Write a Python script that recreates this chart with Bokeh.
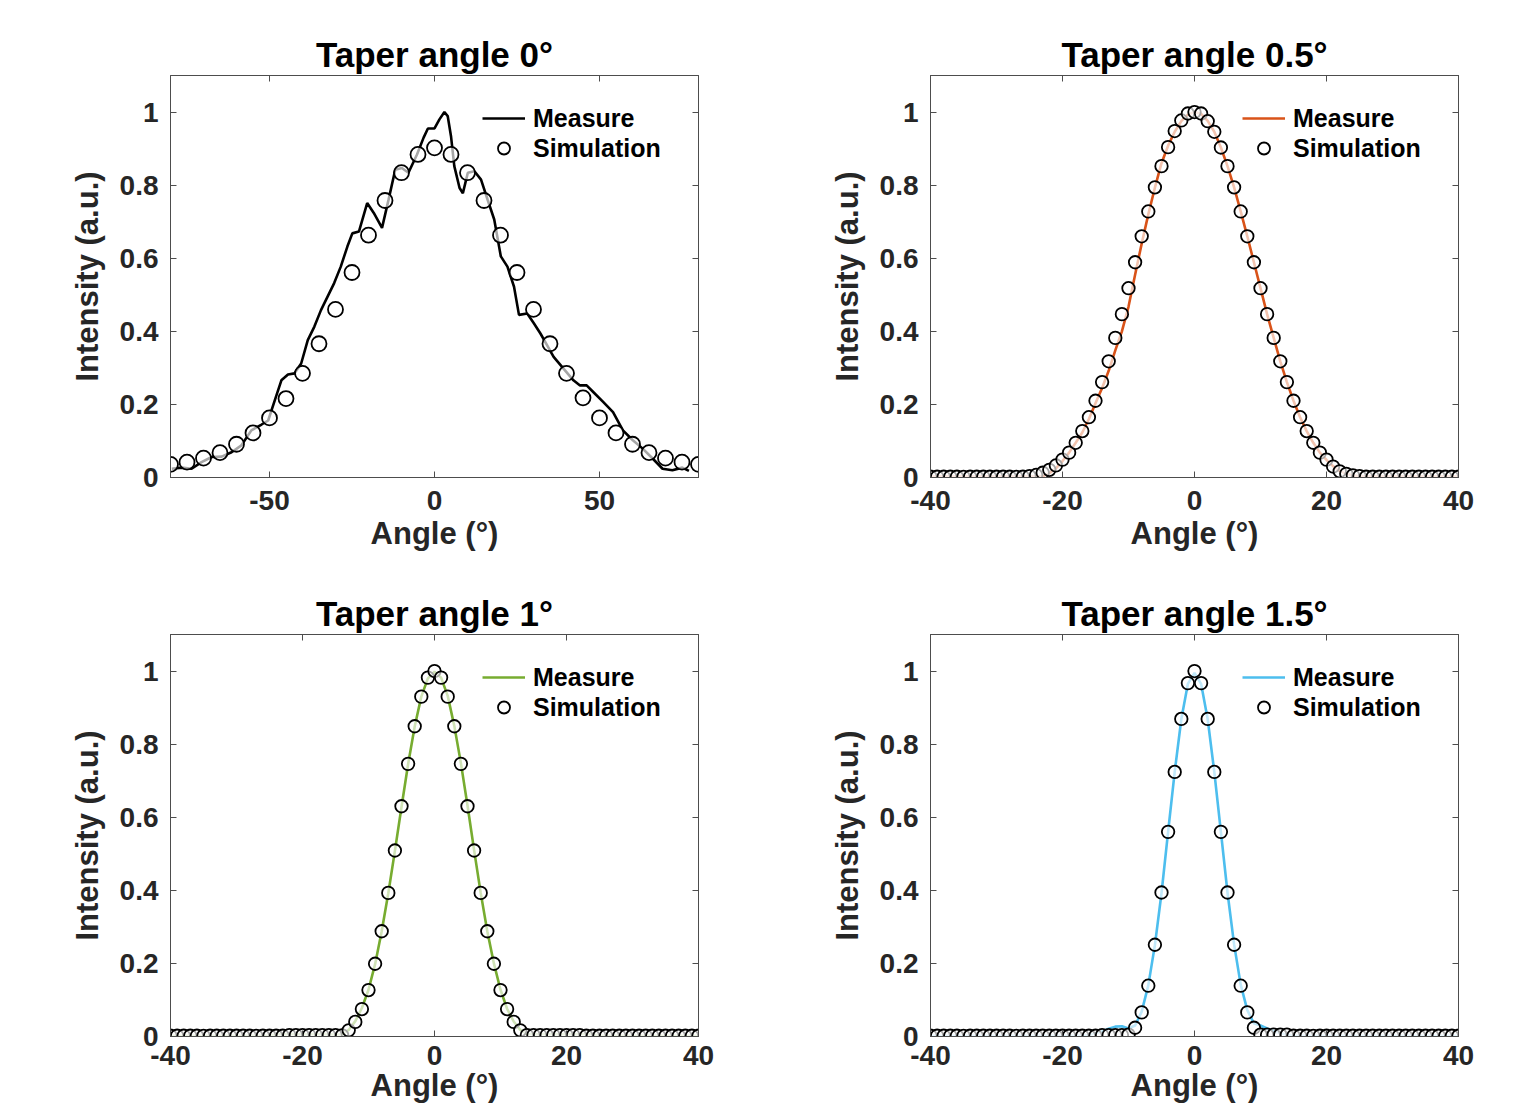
from bokeh.plotting import figure
from bokeh.layouts import row, column
from bokeh.models import (LinearAxis, FixedTicker, NumeralTickFormatter, Legend,
                          LegendItem, Range1d)
from bokeh.embed import file_html
from bokeh.resources import INLINE

# ---------------- data ----------------
titles = ["Taper angle 0°", "Taper angle 0.5°", "Taper angle 1°", "Taper angle 1.5°"]
colors = ["#000000", "#D95319", "#77AC30", "#4DBEEE"]

# Taper 0 deg
sim0_x = list(range(-80, 85, 5))
sim0_y = [0.036, 0.042, 0.053, 0.068, 0.091, 0.122, 0.163, 0.216, 0.285, 0.366, 0.460,
          0.561, 0.663, 0.758, 0.834, 0.884, 0.902, 0.884, 0.834, 0.758, 0.663, 0.561,
          0.460, 0.366, 0.285, 0.218, 0.163, 0.122, 0.091, 0.068, 0.053, 0.042, 0.036]
meas0_x = [-79.6, -76.6, -73.6, -70.6, -67.5, -64.5, -61.5, -58.5, -55.5, -52.4, -50.4,
           -48.4, -46.4, -44.4, -42.4, -40.4, -38.4, -36.4, -34.4, -32.4, -30.4, -28.4,
           -26.4, -24.9, -22.9, -20.4, -18.4, -15.9, -13.9, -11.9, -9.9, -7.9, -5.3,
           -3.3, -2.0, 0.0, 1.5, 3.0, 4.0, 5.0, 6.0, 7.6, 8.6, 10.1, 12.1, 14.1, 16.1,
           18.1, 20.1, 22.1, 24.1, 25.6, 28.1, 30.1, 32.1, 34.1, 36.1, 39.1, 42.1, 44.1,
           46.1, 48.1, 51.1, 54.1, 57.1, 60.1, 63.1, 66.1, 69.1, 72.1, 75.1, 77.1]
meas0_y = [0.024, 0.027, 0.024, 0.042, 0.056, 0.057, 0.069, 0.088, 0.129, 0.145, 0.156,
           0.211, 0.266, 0.282, 0.285, 0.312, 0.376, 0.413, 0.458, 0.495, 0.532, 0.577,
           0.632, 0.668, 0.673, 0.751, 0.724, 0.683, 0.761, 0.842, 0.847, 0.834, 0.884,
           0.930, 0.955, 0.955, 0.980, 1.000, 0.989, 0.934, 0.852, 0.792, 0.778, 0.834,
           0.838, 0.815, 0.760, 0.706, 0.605, 0.577, 0.522, 0.445, 0.449, 0.422, 0.394,
           0.362, 0.330, 0.298, 0.266, 0.252, 0.252, 0.234, 0.207, 0.179, 0.129, 0.102,
           0.079, 0.052, 0.024, 0.020, 0.027, 0.018]

# Taper 0.5, 1, 1.5 deg: sampled every degree from -40 to 40
ang = list(range(-40, 41))

sim05_y = ([0.002] * 15 +
           [0.004, 0.007, 0.013, 0.021, 0.033, 0.049, 0.068, 0.095, 0.127, 0.165, 0.210,
            0.261, 0.318, 0.382, 0.447, 0.518, 0.589, 0.660, 0.728, 0.794, 0.852, 0.904,
            0.948, 0.977, 0.996, 1.000, 0.996, 0.975, 0.946, 0.903, 0.852, 0.794, 0.728,
            0.660, 0.589, 0.518, 0.447, 0.382, 0.318, 0.261, 0.210, 0.165, 0.127, 0.095,
            0.068, 0.049, 0.030, 0.017, 0.010, 0.006, 0.004] +
           [0.002] * 15)
meas05_y = ([0.003] * 18 +
            [0.012, 0.025, 0.045, 0.068, 0.095, 0.123, 0.160, 0.203, 0.245, 0.292, 0.348,
             0.400, 0.467, 0.555, 0.640, 0.720, 0.793, 0.860, 0.908, 0.946, 0.975, 0.993,
             1.000, 0.995, 0.976, 0.946, 0.903, 0.852, 0.794, 0.728, 0.660, 0.589, 0.518,
             0.447, 0.382, 0.318, 0.261, 0.210, 0.165, 0.127, 0.095, 0.068, 0.048, 0.031,
             0.018, 0.010, 0.006] +
            [0.003] * 16)

sim1_y = ([0.002] * 18 + [0.004] * 8 +
          [0.003, 0.017, 0.040, 0.075, 0.127, 0.199, 0.288, 0.393, 0.509, 0.630, 0.746,
           0.849, 0.930, 0.982, 1.000, 0.982, 0.930, 0.849, 0.746, 0.630, 0.509, 0.393,
           0.288, 0.199, 0.127, 0.075, 0.040, 0.017, 0.004] +
          [0.004] * 8 + [0.002] * 18)
meas1_y = ([0.002] * 16 + [0.006] * 9 +
           [0.005, 0.006, 0.018, 0.042, 0.078, 0.128, 0.198, 0.288, 0.392, 0.508, 0.628,
            0.745, 0.848, 0.930, 0.980, 0.998, 0.982, 0.932, 0.850, 0.748, 0.632, 0.510,
            0.393, 0.288, 0.200, 0.128, 0.076, 0.041, 0.018, 0.007] +
           [0.006] * 10 + [0.002] * 16)

sim15_y = ([0.002] * 26 + [0.004] * 4 +
           [0.005, 0.024, 0.066, 0.139, 0.251, 0.394, 0.560, 0.724, 0.869, 0.967, 1.000,
            0.967, 0.869, 0.724, 0.560, 0.394, 0.251, 0.139, 0.066, 0.024, 0.005] +
           [0.005] * 4 + [0.002] * 26)
meas15_y = ([0.002] * 24 +
            [0.004, 0.008, 0.014, 0.021, 0.027, 0.028, 0.022, 0.030, 0.068, 0.140, 0.250,
             0.392, 0.560, 0.724, 0.868, 0.965, 0.995, 0.965, 0.868, 0.724, 0.560, 0.394,
             0.252, 0.142, 0.072, 0.036, 0.030, 0.022, 0.015, 0.009, 0.005] +
            [0.002] * 26)

xticks0 = [-50, 0, 50]
xticks = [-40, -20, 0, 20, 40]
yticks = [0, 0.2, 0.4, 0.6, 0.8, 1]

# ---------------- styling ----------------
FONT = "Liberation Sans"
AX = "#262626"
FRAME = "#4d4d4d"


def make(title, xr, xt, mx, my, sx, sy, color, msize, w, h, bl, br, bt, bb, lab_so, axl_so):
    p = figure(width=w, height=h, x_range=Range1d(*xr), y_range=Range1d(0, 1.1),
               output_backend="svg", toolbar_location=None,
               min_border_left=bl, min_border_right=br, min_border_top=bt,
               min_border_bottom=bb, title=title)
    p.title.text_font = FONT
    p.title.text_font_size = "35px"
    p.title.text_font_style = "bold"
    p.title.text_color = "black"
    p.title.align = "center"
    p.title.standoff = 3
    p.xgrid.grid_line_color = None
    p.ygrid.grid_line_color = None
    p.outline_line_color = FRAME
    p.outline_line_width = 1
    p.background_fill_color = "white"
    p.border_fill_color = "white"

    for ax, ticks in ((p.xaxis[0], xt), (p.yaxis[0], yticks)):
        ax.ticker = FixedTicker(ticks=ticks)
        ax.formatter = NumeralTickFormatter(format="0.[0]")
        ax.major_tick_in = 6
        ax.major_tick_out = 0
        ax.minor_tick_line_color = None
        ax.axis_line_color = FRAME
        ax.major_tick_line_color = FRAME
        ax.major_label_text_font = FONT
        ax.major_label_text_font_style = "bold"
        ax.major_label_text_font_size = "28px"
        ax.major_label_text_color = AX
        ax.axis_label_text_font = FONT
        ax.axis_label_text_font_style = "bold"
        ax.axis_label_text_font_size = "31px"
        ax.axis_label_text_color = AX
    p.xaxis.axis_label = "Angle (°)"
    p.xaxis.major_label_standoff = lab_so
    p.xaxis.axis_label_standoff = axl_so
    p.yaxis.axis_label = "Intensity (a.u.)"
    p.yaxis.major_label_standoff = 12
    p.yaxis.axis_label_standoff = 12

    # tick marks on the top and right sides (no labels)
    for loc, ticks in (("right", yticks), ("above", xt)):
        ax = LinearAxis(ticker=FixedTicker(ticks=ticks), major_label_text_font_size="1px",
                        major_label_text_color=None, major_label_standoff=0,
                        major_tick_in=6, major_tick_out=0,
                        minor_tick_line_color=None, axis_line_color=FRAME,
                        major_tick_line_color=FRAME)
        p.add_layout(ax, loc)

    lr = p.line(mx, my, line_color=color, line_width=2.6)
    sr = p.scatter(sx, sy, marker="circle", size=msize, line_color="black",
                   line_width=1.8, fill_color="white", fill_alpha=0.65)

    leg = Legend(items=[LegendItem(label="Measure", renderers=[lr]),
                        LegendItem(label="Simulation", renderers=[sr])],
                 location=(312, 314), border_line_color=None, background_fill_alpha=0,
                 label_text_font=FONT, label_text_font_style="bold",
                 label_text_font_size="25px", label_text_color="black",
                 glyph_width=43, glyph_height=30, label_height=28, label_standoff=8,
                 padding=0, spacing=0, margin=0)
    p.add_layout(leg)
    return p


p1 = make(titles[0], (-80, 80), xticks0, meas0_x, meas0_y, sim0_x, sim0_y, colors[0], 15,
          760, 568, 170, 62, 75, 91, 13, 3)
p2 = make(titles[1], (-40, 40), xticks, ang, meas05_y, ang, sim05_y, colors[1], 12.5,
          760, 568, 170, 62, 75, 91, 13, 3)
p3 = make(titles[2], (-40, 40), xticks, ang, meas1_y, ang, sim1_y, colors[2], 12.5,
          760, 546, 170, 62, 66, 78, 9, 0)
p4 = make(titles[3], (-40, 40), xticks, ang, meas15_y, ang, sim15_y, colors[3], 12.5,
          760, 546, 170, 62, 66, 78, 9, 0)

layout = column(row(p1, p2), row(p3, p4))
open("out.html", "w").write(file_html(layout, INLINE))
